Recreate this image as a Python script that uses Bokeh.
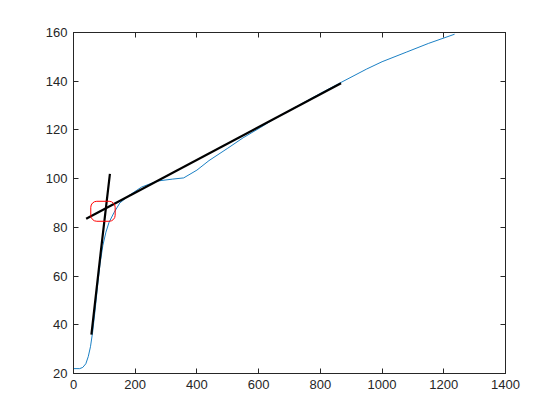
from bokeh.plotting import figure
from bokeh.models import Range1d, LinearAxis, FixedTicker
from bokeh.embed import file_html
from bokeh.resources import INLINE

# ---- data ----
curve_x = [0, 20, 30, 40, 48, 55, 62, 70, 78, 86, 95, 105, 115, 131, 150, 179, 220,
           271, 320, 357, 400, 439, 500, 550, 606, 650, 700, 750, 800, 867, 950,
           1000, 1080, 1150, 1235]
curve_y = [22, 22, 22.5, 24, 27, 31, 37, 46, 56, 65, 72.5, 78, 82, 86, 90, 93, 96.5,
           99, 99.8, 100.3, 103.5, 107.4, 112.5, 116.8, 121, 124.5, 128, 131.5, 135,
           139.5, 145, 148, 152, 155.5, 159.3]

steep_x = [58, 88, 118]
steep_y = [36, 69.5, 102]

shallow_x = [41, 867]
shallow_y = [83.5, 139.2]

box_left, box_right = [56], [135]
box_bottom, box_top = [82.5], [90.7]

x_ticks = [0, 200, 400, 600, 800, 1000, 1200, 1400]
y_ticks = [20, 40, 60, 80, 100, 120, 140, 160]

AX = "#262626"

p = figure(width=544, height=404, output_backend="svg", toolbar_location=None,
           x_range=Range1d(0, 1400), y_range=Range1d(20, 160),
           min_border_left=73, min_border_right=39, min_border_top=32,
           min_border_bottom=31)
p.background_fill_color = "white"
p.border_fill_color = "white"
p.outline_line_color = AX
p.xgrid.visible = False
p.ygrid.visible = False

def style(ax, ticks, labels=True):
    ax.ticker = FixedTicker(ticks=ticks)
    ax.axis_line_color = AX
    ax.major_tick_line_color = AX
    ax.major_tick_in = 5
    ax.major_tick_out = 0
    ax.minor_tick_line_color = None
    if labels:
        ax.major_label_text_font = "Liberation Sans"
        ax.major_label_text_font_size = "13px"
        ax.major_label_text_color = AX
        ax.major_label_standoff = 6
    else:
        ax.major_label_overrides = {t: "" for t in ticks}
        ax.major_label_standoff = 0

style(p.xaxis[0], x_ticks)
style(p.yaxis[0], y_ticks)
top = LinearAxis()
style(top, x_ticks, labels=False)
right = LinearAxis()
style(right, y_ticks, labels=False)
p.add_layout(top, "above")
p.add_layout(right, "right")

p.line(curve_x, curve_y, line_color="#0072BD", line_width=0.9)
p.line(steep_x, steep_y, line_color="black", line_width=2.2)
p.line(shallow_x, shallow_y, line_color="black", line_width=2.2)
p.quad(left=box_left, right=box_right, bottom=box_bottom, top=box_top,
       fill_color=None, line_color="red", line_width=1, border_radius=6)

open("out.html", "w").write(file_html(p, INLINE))
